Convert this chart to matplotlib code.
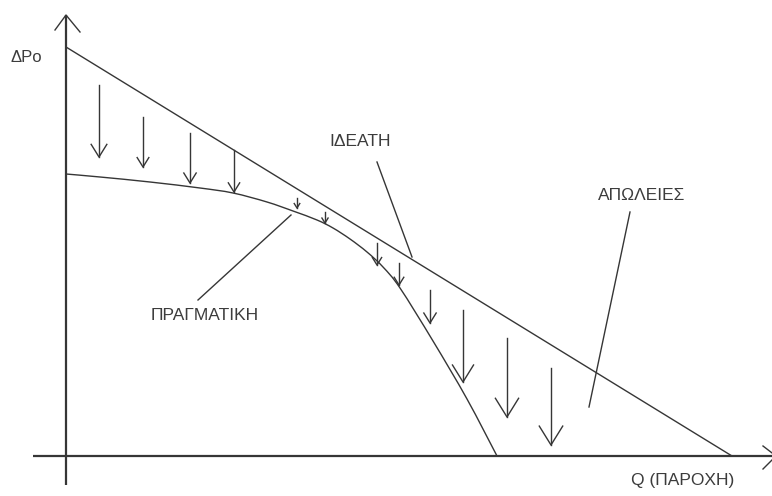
import numpy as np
import matplotlib
matplotlib.use('Agg')
import matplotlib.pyplot as plt
from matplotlib.path import Path
from matplotlib.patches import PathPatch

plt.rcParams['font.family'] = ['Liberation Sans', 'DejaVu Sans']

# ---- data (Q = flow, P = pressure difference), units relative to origin ----
ideal_q = [0, 666]
ideal_p = [409, 0]

actual_q = [0, 34, 84, 134, 167, 201, 227, 251, 267, 284, 301, 317, 334, 367, 401, 431]
actual_p = [282, 279, 274, 268, 263, 254, 245, 236, 228, 217, 204, 189, 168, 115, 57, 0]

# loss arrows (downward)
arrow_q = [33, 77, 124, 168, 231, 259, 311, 333, 364, 397, 441, 485]
arrow_top = [371, 339, 323, 306, 258, 244, 213, 193, 166, 146, 118, 88]
arrow_bottom = [299, 289, 273, 264, 248, 233, 191, 171, 133, 74, 39, 11]

# labels
labels = ['ΙΔΕΑΤΗ', 'ΠΡΑΓΜΑΤΙΚΗ', 'ΑΠΩΛΕΙΕΣ']
label_q = [294, 139, 576]
label_p = [315, 140, 261]
leader_from_q = [311, 132, 564]
leader_from_p = [294, 156, 244]
leader_to_q = [346, 225, 523]
leader_to_p = [199, 241, 49]

x_label = 'Q (ΠΑΡΟΧΗ)'
y_label = 'ΔPo'

# ---- drawing ----
ink = '#363636'
fig = plt.figure(figsize=(7.72, 4.96), dpi=100)
ax = fig.add_axes([0, 0, 1, 1])
ax.set_xlim(-66, 706)
ax.set_ylim(-40, 456)
ax.axis('off')

# axes
ax.plot([0, 0], [-29, 441], color=ink, lw=1.6, solid_capstyle='butt')
ax.plot([-33, 712], [0, 0], color=ink, lw=1.6, solid_capstyle='butt')
ax.plot([-11, 0, 14], [426, 441, 424], color=ink, lw=1.0)
ax.plot([697, 710, 697], [10, 0, -13], color=ink, lw=1.0)

# ideal line
ax.plot(ideal_q, ideal_p, color=ink, lw=1.0)

# actual curve drawn as smooth Bezier path through the read points (Catmull-Rom)
pts = np.column_stack([actual_q, actual_p]).astype(float)
verts = [tuple(pts[0])]
codes = [Path.MOVETO]
n = len(pts)
for i in range(n - 1):
    p0 = pts[max(i - 1, 0)]
    p1 = pts[i]
    p2 = pts[i + 1]
    p3 = pts[min(i + 2, n - 1)]
    c1 = p1 + (p2 - p0) / 6.0
    c2 = p2 - (p3 - p1) / 6.0
    verts += [tuple(c1), tuple(c2), tuple(p2)]
    codes += [Path.CURVE4] * 3
ax.add_patch(PathPatch(Path(verts, codes), facecolor='none', edgecolor=ink, lw=1.0))

# arrows
for q, t, b in zip(arrow_q, arrow_top, arrow_bottom):
    L = t - b
    hl = 0.17 * L + 0.012 * q
    hw = 0.62 * hl
    ax.plot([q, q], [t, b], color=ink, lw=1.0)
    ax.plot([q - hw, q, q + hw], [b + hl, b, b + hl], color=ink, lw=1.0)

# leader lines and labels
for txt, lq, lp, fq, fp, tq, tp in zip(labels, label_q, label_p, leader_from_q,
                                        leader_from_p, leader_to_q, leader_to_p):
    ax.plot([fq, tq], [fp, tp], color=ink, lw=1.0)
    ax.text(lq, lp, txt, ha='center', va='center', fontsize=12.5, color='#3c3c3c')

ax.text(617, -24, x_label, ha='center', va='center', fontsize=12.5, color='#3c3c3c')
ax.text(-40, 399, y_label, ha='center', va='center', fontsize=12, color='#3c3c3c')

fig.savefig('out.png', dpi=100)
